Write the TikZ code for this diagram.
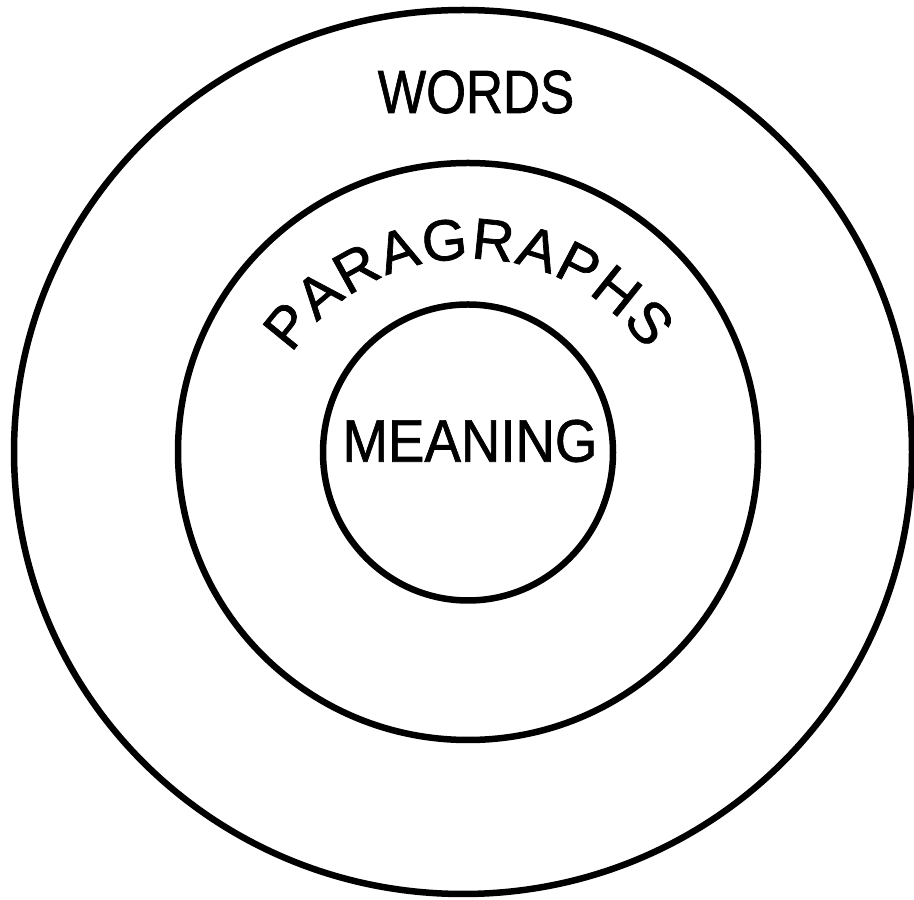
\documentclass[tikz,border=0pt]{standalone}
\usepackage{fontspec}
\usepackage{graphicx}
\newfontfamily\handfont[FakeBold=1.2]{Liberation Sans}
\usetikzlibrary{decorations.text}
\tikzset{
  ring/.style={draw=black, line width=6.5pt},
  lbl/.style={inner sep=0pt, outer sep=0pt, font=\handfont}
}
\begin{document}
\begin{tikzpicture}[x=1pt,y=1pt]
\useasboundingbox[fill=white] (0,0) rectangle (914,900);
% centres
\coordinate (co) at (463,448);
\coordinate (cm) at (468,448.5);
\coordinate (ci) at (468,447.5);
\coordinate (ct) at (470,426);
% rings
\draw[ring] (co) ellipse[x radius=449pt, y radius=442pt];
\draw[ring] (cm) ellipse[x radius=290pt, y radius=288.5pt];
\draw[ring] (ci) ellipse[x radius=145pt, y radius=148pt];
% labels
\node[lbl] (words) at (476,808) {\fontsize{61}{61}\selectfont\scalebox{0.84}[1]{WORDS}};
\node[lbl] (meaning) at (470,459) {\fontsize{60}{60}\selectfont\scalebox{0.91}[1]{MEANING}};
\path[decorate, decoration={text along path,
  text={|\handfont\fontsize{58}{58}\selectfont|PARAGRAPHS},
  text align={fit to path}}]
  (ct) ++(146:215pt) arc[start angle=146, end angle=35, radius=215pt];
\end{tikzpicture}
\end{document}
